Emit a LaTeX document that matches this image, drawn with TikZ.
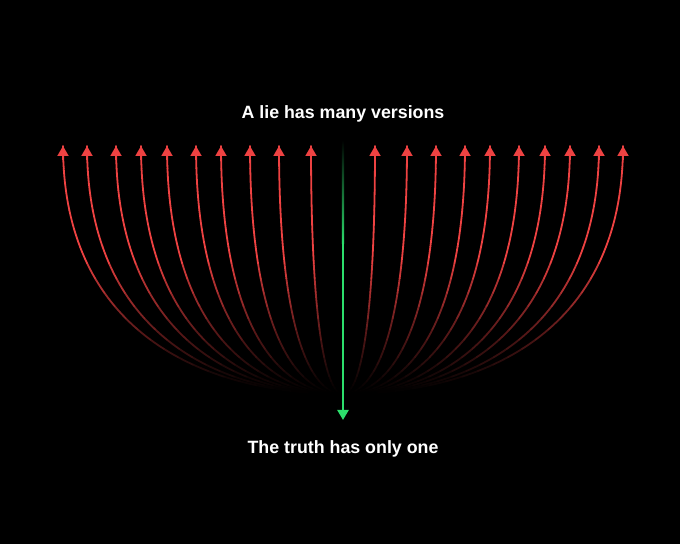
\documentclass[tikz,border=0pt]{standalone}
\usepackage{fontspec}
\setmainfont{Liberation Sans}
\usetikzlibrary{arrows.meta}

\definecolor{liered}{RGB}{238,66,66}
\definecolor{truthgreen}{RGB}{44,222,108}

\begin{document}
\begin{tikzpicture}[x=1bp, y=1bp,
    caption/.style={text=white, font=\fontsize{17.8bp}{21bp}\selectfont\bfseries},
    lie/.style={line width=1.8bp, line cap=round},
    lietip/.style={draw=liered, line width=1.8bp, -{Triangle[width=11bp,length=10bp]}},
    truth/.style={draw=truthgreen, line width=2.4bp, -{Triangle[width=11bp,length=10bp]}}]

    \fill[black] (0,0) rectangle (680,544);
    \useasboundingbox (0,0) rectangle (680,544);

    % Labels
    \node[caption] (lies) at (343,430) {A lie has many versions};
    \node[caption] (truths) at (343,95) {The truth has only one};

    % Points
    \coordinate (base) at (343,150);
    \coordinate (truthtop) at (343,404);
    \coordinate (truthmid) at (343,300);
    \coordinate (truthend) at (343,124);

    % Lies (curve from base to tip, darker towards the base)
    \foreach \d [count=\i] in {32,64,93,122,147,176,202,227,256,280} {
        \coordinate (tipL\i) at (343-\d,398);
        \coordinate (tipR\i) at (343+\d,398);
        \foreach \s in {-1,1} {
            \foreach \k in {0,...,23} {
                \pgfmathsetmacro\ta{\k/24}
                \pgfmathsetmacro\tb{(\k+1)/24}
                \pgfmathsetmacro\tm{(\k+0.5)/24}
                \pgfmathsetmacro\mix{100*(min(1,(186*(1-\tm)*\tm*\tm+248*\tm*\tm*\tm)/140))^1.2}
                \draw[lie, draw=liered!\mix!black] plot[variable=\t, domain=\ta:\tb, samples=4]
                    ({343+\s*\d*(1.5*(1-\t)*(1-\t)*\t+3*(1-\t)*\t*\t+\t*\t*\t)},
                     {150+186*(1-\t)*\t*\t+248*\t*\t*\t});
            }
        }
        \draw[lietip] ([yshift=-14bp]tipL\i) -- (tipL\i);
        \draw[lietip] ([yshift=-14bp]tipR\i) -- (tipR\i);
    }

    % Truth
    \shade[top color=black, bottom color=truthgreen] ([xshift=-1.2bp]truthtop) rectangle ([xshift=1.2bp]truthmid);
    \draw[truth] (truthmid) -- (truthend);
\end{tikzpicture}
\end{document}
